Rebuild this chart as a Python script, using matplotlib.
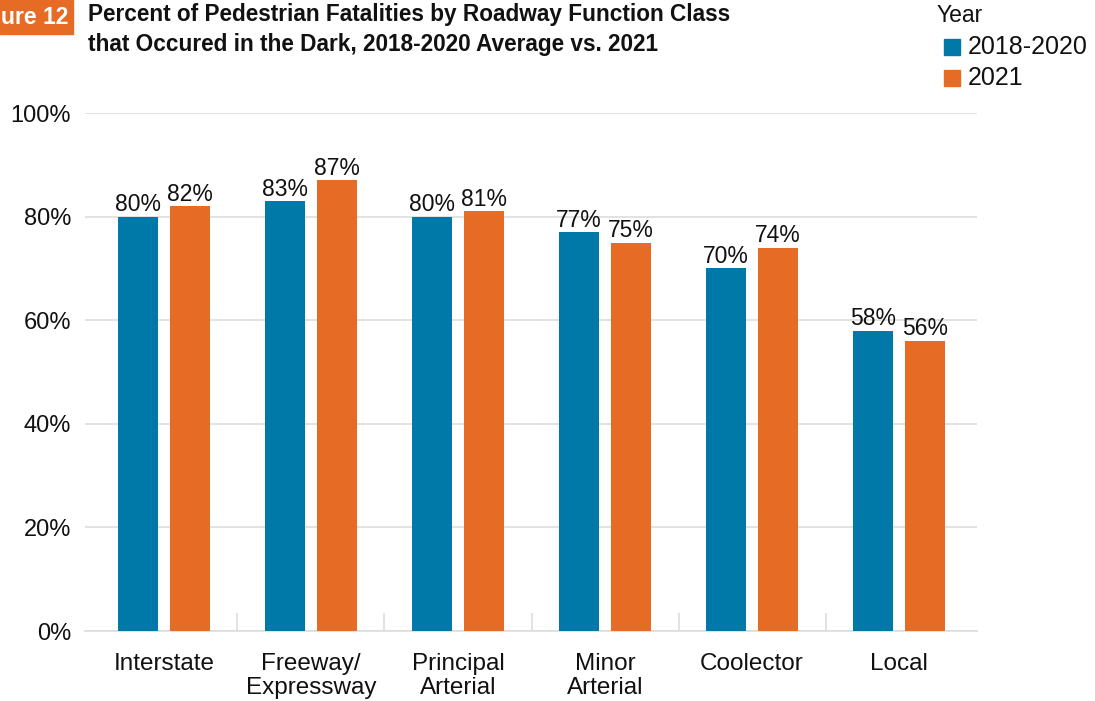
import matplotlib
matplotlib.use("Agg")
import matplotlib.pyplot as plt
from matplotlib.patches import Rectangle
import numpy as np

categories = ["Interstate", "Freeway/\nExpressway", "Principal\nArterial", "Minor\nArterial", "Coolector", "Local"]
avg_2018_2020 = [80, 83, 80, 77, 70, 58]
year_2021 = [82, 87, 81, 75, 74, 56]
series_names = ["2018-2020", "2021"]
yticks = [0, 20, 40, 60, 80, 100]

BLUE = "#0078A8"
ORANGE = "#E66B24"

plt.rcParams['font.family'] = ['Liberation Sans', 'DejaVu Sans']

W, H = 1095, 701
fig = plt.figure(figsize=(W/100, H/100), dpi=100)
ax = fig.add_axes([85/W, 1 - 631/H, (977-85)/W, (631-113)/H])

x = np.arange(len(categories))
w = 0.272
off = 0.177
b1 = ax.bar(x - off, avg_2018_2020, w, color=BLUE, label=series_names[0], zorder=3)
b2 = ax.bar(x + off, year_2021, w, color=ORANGE, label=series_names[1], zorder=3)

for bars, vals in ((b1, avg_2018_2020), (b2, year_2021)):
    for r, v in zip(bars, vals):
        ax.text(r.get_x() + r.get_width()/2, v + 0.1, f"{v}%", ha="center", va="bottom",
                fontsize=16.5, color="#111111", zorder=4)

ax.set_xlim(-0.537, len(categories) - 1 + 0.53)
ax.set_ylim(0, 100)
ax.set_yticks(yticks)
ax.set_yticklabels([f"{t}%" for t in yticks], fontsize=17, color="#111111")
ax.yaxis.grid(True, color="#dddddd", linewidth=1.2, zorder=0)
ax.tick_params(axis="y", length=0, pad=10)
ax.set_xticks(x)
ax.set_xticklabels(categories, fontsize=17.5, color="#111111", linespacing=1.12, va="top")
ax.tick_params(axis="x", length=0, pad=16)
ax.set_xticks(np.arange(len(categories) - 1) + 0.5, minor=True)
ax.tick_params(axis="x", which="minor", direction="in", length=13, color="#dddddd", width=1.2)
for s in ("top", "right", "left"):
    ax.spines[s].set_visible(False)
ax.spines["bottom"].set_color("#dddddd")
ax.spines["bottom"].set_linewidth(1.2)

# Figure badge and title
fig.patches.append(Rectangle((0, 1 - 34/H), 73/W, 34/H, transform=fig.transFigure,
                             color=ORANGE, zorder=5))
fig.text(68/W, 1 - 17/H, "ure 12", ha="right", va="center", fontsize=16.5, color="white",
         fontweight="bold", zorder=6)
fig.text(88/W, 1 - 15/H, "Percent of Pedestrian Fatalities by Roadway Function Class",
         ha="left", va="center", fontsize=16.3, fontweight="bold", color="#111111")
fig.text(88/W, 1 - 44/H, "that Occured in the Dark, 2018-2020 Average vs. 2021",
         ha="left", va="center", fontsize=16.3, fontweight="bold", color="#111111")

# Legend
fig.text(937/W, 1 - 16/H, "Year", ha="left", va="center", fontsize=16.5, color="#111111")
for i, (name, col) in enumerate(zip(series_names, [BLUE, ORANGE])):
    yc = 47 + i * 31
    fig.patches.append(Rectangle((944/W, 1 - (yc + 8)/H), 16/W, 16/H,
                                 transform=fig.transFigure, color=col))
    fig.text(968/W, 1 - yc/H, name, ha="left", va="center", fontsize=18, color="#111111")

fig.savefig("out.png", dpi=100)
